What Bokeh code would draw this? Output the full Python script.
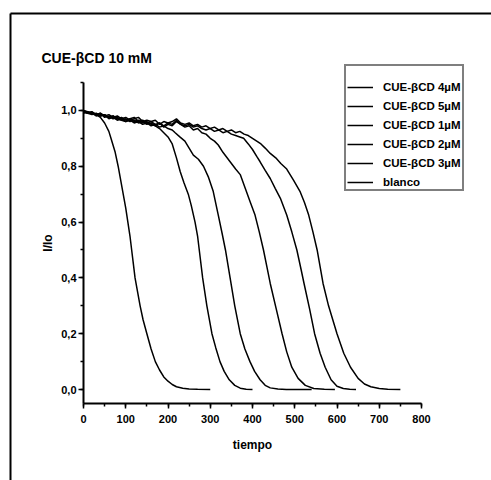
from bokeh.plotting import figure
from bokeh.models import (Legend, LegendItem, Label, Arrow, FixedTicker, CustomJSTickFormatter,
                          LinearAxis, Range1d)
from bokeh.embed import file_html
from bokeh.resources import INLINE

# Fluorescence decay I/Io versus time for CUE-βCD 10 mM series
t_blanco = [0, 10, 20, 30, 40, 50, 60, 65, 70, 75, 82, 88, 94, 100, 105, 110, 114, 118, 122, 128,
            134, 141, 150, 160, 170, 180, 190, 200, 210, 220, 235, 250, 270, 300]
i_blanco = [1.0, 0.99, 0.99, 0.985, 0.975, 0.955, 0.925, 0.9, 0.875, 0.85, 0.8, 0.75, 0.7, 0.65, 0.6,
            0.55, 0.5, 0.45, 0.4, 0.35, 0.3, 0.25, 0.2, 0.145, 0.1, 0.07, 0.045, 0.03, 0.018, 0.01,
            0.005, 0.002, 0.001, 0.0]

t_1uM = [0, 10, 20, 30, 40, 50, 60, 70, 80, 90, 100, 110, 120, 130, 140, 150, 160, 170, 180, 190,
         200, 210, 220, 229, 238, 248, 255, 264, 270, 274, 282, 292, 304, 313, 323, 333, 345, 358,
         371, 385, 400]
i_1uM = [1.0, 0.995, 0.99, 0.985, 0.99, 0.98, 0.975, 0.98, 0.97, 0.975, 0.965, 0.97, 0.96, 0.965,
         0.955, 0.96, 0.95, 0.945, 0.935, 0.92, 0.905, 0.88, 0.83, 0.78, 0.74, 0.7, 0.66, 0.6, 0.55,
         0.5, 0.4, 0.3, 0.2, 0.15, 0.1, 0.065, 0.035, 0.015, 0.005, 0.001, 0.0]

t_2uM = [0, 10, 20, 30, 40, 50, 60, 70, 80, 90, 100, 110, 120, 130, 140, 150, 160, 170, 180, 190,
         200, 210, 217, 228, 240, 250, 260, 272, 284, 296, 307, 319, 328, 336, 347, 358, 371, 382,
         394, 405, 418, 430, 442, 460, 480, 510, 540]
i_2uM = [0.995, 0.99, 0.995, 0.985, 0.98, 0.985, 0.97, 0.975, 0.965, 0.97, 0.96, 0.965, 0.955, 0.96,
         0.95, 0.955, 0.945, 0.95, 0.94, 0.945, 0.935, 0.93, 0.92, 0.905, 0.89, 0.865, 0.84, 0.825,
         0.8, 0.76, 0.71, 0.625, 0.56, 0.5, 0.4, 0.3, 0.2, 0.145, 0.1, 0.065, 0.035, 0.015, 0.006,
         0.002, 0.0, 0.0, 0.0]

t_3uM = [0, 10, 20, 30, 40, 50, 60, 70, 80, 90, 100, 110, 120, 130, 140, 150, 160, 170, 180, 190,
         200, 210, 220, 230, 240, 250, 260, 270, 280, 290, 300, 310, 319, 330, 347, 360, 371, 383,
         395, 406, 416, 426, 434, 442, 456, 470, 481, 493, 508, 525, 545, 570, 595]
i_3uM = [1.0, 0.99, 0.995, 0.985, 0.99, 0.975, 0.98, 0.97, 0.975, 0.965, 0.97, 0.96, 0.965, 0.955,
         0.96, 0.95, 0.955, 0.945, 0.955, 0.94, 0.95, 0.945, 0.96, 0.95, 0.94, 0.945, 0.93, 0.935,
         0.92, 0.915, 0.9, 0.89, 0.876, 0.85, 0.816, 0.79, 0.77, 0.72, 0.67, 0.625, 0.565, 0.5, 0.44,
         0.38, 0.29, 0.2, 0.135, 0.08, 0.04, 0.015, 0.004, 0.001, 0.0]

t_4uM = [0, 10, 20, 30, 40, 50, 60, 70, 80, 90, 100, 110, 120, 130, 140, 150, 160, 170, 180, 190,
         200, 210, 220, 230, 240, 250, 260, 270, 280, 290, 300, 310, 320, 330, 340, 350, 360, 370,
         379, 390, 400, 410, 418, 430, 442, 454, 466, 481, 493, 505, 515, 522, 535, 547, 560, 572,
         586, 600, 615, 630, 645]
i_4uM = [0.995, 0.99, 0.985, 0.99, 0.98, 0.985, 0.975, 0.98, 0.97, 0.965, 0.96, 0.97, 0.975, 0.96,
         0.965, 0.955, 0.96, 0.95, 0.955, 0.945, 0.955, 0.95, 0.965, 0.95, 0.945, 0.95, 0.94, 0.945,
         0.935, 0.93, 0.935, 0.925, 0.93, 0.92, 0.925, 0.915, 0.91, 0.905, 0.9, 0.88, 0.86, 0.835,
         0.816, 0.785, 0.756, 0.72, 0.685, 0.625, 0.565, 0.5, 0.43, 0.38, 0.29, 0.2, 0.13, 0.08,
         0.035, 0.012, 0.004, 0.001, 0.0]

t_5uM = [0, 10, 20, 30, 40, 50, 60, 70, 80, 90, 100, 110, 120, 130, 140, 150, 160, 170, 180, 190,
         200, 210, 220, 230, 240, 250, 260, 270, 280, 290, 300, 310, 320, 330, 340, 350, 360, 370,
         380, 390, 400, 410, 420, 430, 442, 455, 467, 481, 497, 513, 523, 533, 543, 553, 560, 567,
         580, 590, 600, 616, 632, 650, 665, 680, 700, 720, 750]
i_5uM = [0.99, 0.995, 0.99, 0.98, 0.985, 0.98, 0.985, 0.975, 0.98, 0.97, 0.975, 0.965, 0.97, 0.975,
         0.96, 0.965, 0.96, 0.965, 0.95, 0.96, 0.955, 0.96, 0.97, 0.955, 0.95, 0.955, 0.945, 0.95,
         0.94, 0.945, 0.935, 0.94, 0.93, 0.935, 0.925, 0.93, 0.92, 0.925, 0.915, 0.91, 0.9, 0.89,
         0.88, 0.865, 0.846, 0.83, 0.81, 0.79, 0.75, 0.708, 0.67, 0.625, 0.565, 0.5, 0.44, 0.38,
         0.3, 0.25, 0.2, 0.13, 0.08, 0.04, 0.02, 0.01, 0.004, 0.001, 0.0]

series_labels = ["CUE-βCD 4µM", "CUE-βCD 5µM", "CUE-βCD 1µM", "CUE-βCD 2µM", "CUE-βCD 3µM", "blanco"]
series_data = [(t_4uM, i_4uM), (t_5uM, i_5uM), (t_1uM, i_1uM), (t_2uM, i_2uM), (t_3uM, i_3uM),
               (t_blanco, i_blanco)]

y_ticks = [0.0, 0.2, 0.4, 0.6, 0.8, 1.0]
x_ticks = [0, 100, 200, 300, 400, 500, 600, 700, 800]

# axis spans 0..800 and -0.05..1.1; the plot area is widened so that the
# title, legend and page frame can sit around the axes
X0, X1, Y0, Y1 = 0, 800, -0.05, 1.1
W, H = 491, 480
LEFT, RIGHT, TOP, BOTTOM = 83, 421, 82, 403
sx = (RIGHT - LEFT) / (X1 - X0)
sy = (BOTTOM - TOP) / (Y1 - Y0)

p = figure(width=W, height=H, output_backend="svg", toolbar_location=None, title=None,
           x_axis_type=None, y_axis_type=None,
           x_range=Range1d(X0 - LEFT / sx, X1 + (W - RIGHT) / sx),
           y_range=Range1d(Y0 - (H - BOTTOM) / sy, Y1 + TOP / sy),
           min_border=0)
p.outline_line_color = None
p.background_fill_color = "white"
p.border_fill_color = "white"

items = []
for label, (t, i) in zip(series_labels, series_data):
    r = p.line(t, i, line_color="black", line_width=1.5)
    items.append(LegendItem(label=label, renderers=[r]))

xaxis = LinearAxis(fixed_location=Y0, bounds=(X0, X1),
                   ticker=FixedTicker(ticks=x_ticks, minor_ticks=list(range(0, 801, 50))),
                   axis_label="tiempo")
yaxis = LinearAxis(fixed_location=X0, bounds=(Y0, Y1),
                   ticker=FixedTicker(ticks=y_ticks,
                                      minor_ticks=[round(k * 0.1, 1) for k in range(0, 12)]),
                   formatter=CustomJSTickFormatter(code="return tick.toFixed(1).replace('.', ',');"),
                   axis_label="I/Io")
for ax in (xaxis, yaxis):
    ax.axis_line_width = 2
    ax.axis_line_color = "black"
    ax.major_tick_line_width = 1.5
    ax.minor_tick_line_width = 1.5
    ax.major_tick_in = 0
    ax.major_tick_out = 5
    ax.minor_tick_in = 0
    ax.minor_tick_out = 3
    ax.major_label_text_font = "Liberation Sans"
    ax.major_label_text_font_size = "11px"
    ax.major_label_text_font_style = "bold"
    ax.major_label_text_color = "black"
    ax.axis_label_text_font = "Liberation Sans"
    ax.axis_label_text_font_size = "12px"
    ax.axis_label_text_font_style = "bold"
    ax.axis_label_text_color = "black"
xaxis.major_label_standoff = 6
yaxis.major_label_standoff = 2
xaxis.axis_label_standoff = 12
yaxis.axis_label_standoff = 3
p.add_layout(xaxis, "below")
p.add_layout(yaxis, "left")

legend = Legend(items=items, location=(344, H - 191), title=" ",
                title_text_font_size="10px", title_standoff=3,
                label_text_font="Liberation Sans", label_text_font_size="11.5px",
                label_text_font_style="bold", label_text_color="black",
                glyph_width=26, glyph_height=12, label_height=12, spacing=7,
                label_standoff=10, padding=1, margin=0,
                border_line_color="black", border_line_width=2,
                background_fill_color="white", background_fill_alpha=1.0)
p.add_layout(legend, "center")

p.add_layout(Label(x=X0 + (41 - LEFT) / sx, y=Y1 + (TOP - 57) / sy, text="CUE-βCD 10 mM",
                   text_font="Liberation Sans", text_font_size="14px", text_font_style="bold",
                   text_color="black", text_baseline="middle"))

# page frame lines (top and left)
fx = X0 + (10 - LEFT) / sx
fy = Y1 + (TOP - 13) / sy
p.add_layout(Arrow(end=None, x_start=fx, y_start=fy, x_end=X1 + (W - RIGHT) / sx, y_end=fy,
                   line_color="black", line_width=2))
p.add_layout(Arrow(end=None, x_start=fx, y_start=fy, x_end=fx, y_end=Y0 - (H - BOTTOM) / sy,
                   line_color="black", line_width=2))

open("out.html", "w").write(file_html(p, INLINE))
